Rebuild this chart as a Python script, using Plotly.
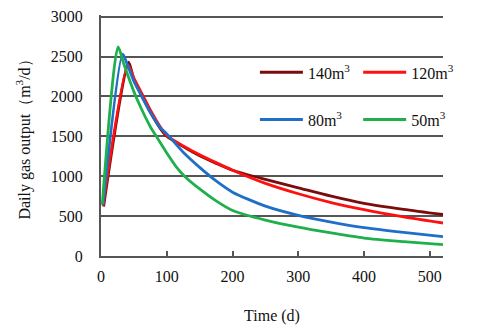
import plotly.graph_objects as go

# values (day, m3/d)
days_140 = [4, 42, 50, 60, 75, 90, 100, 125, 150, 175, 200, 250, 300, 350, 400, 460, 520]
gas_140 = [620, 2430, 2210, 2040, 1800, 1600, 1500, 1370, 1255, 1160, 1075, 960, 855, 750, 660, 585, 520]

days_120 = [3, 41, 50, 60, 75, 90, 100, 125, 150, 175, 200, 250, 300, 350, 400, 460, 520]
gas_120 = [630, 2390, 2230, 2070, 1830, 1620, 1510, 1380, 1270, 1170, 1075, 910, 780, 670, 580, 490, 413]

days_80 = [3, 33, 40, 50, 60, 75, 90, 100, 125, 150, 175, 200, 250, 300, 350, 400, 460, 520]
gas_80 = [640, 2530, 2400, 2190, 2030, 1800, 1610, 1530, 1300, 1110, 940, 800, 625, 510, 425, 355, 295, 242]

days_50 = [2, 26, 35, 50, 60, 75, 84, 100, 115, 127, 150, 175, 200, 250, 300, 350, 400, 460, 520]
gas_50 = [650, 2620, 2400, 2060, 1870, 1620, 1500, 1290, 1110, 1000, 840, 690, 570, 450, 362, 290, 225, 180, 142]

names = ["140m<sup>3</sup>", "120m<sup>3</sup>", "80m<sup>3</sup>", "50m<sup>3</sup>"]
colors = ["#7a0c0c", "#ff1010", "#1f6fc8", "#1fb04c"]
series = [(days_140, gas_140), (days_120, gas_120), (days_80, gas_80), (days_50, gas_50)]
# one small legend per series so the 2x2 layout matches the picture
legend_ids = ["legend", "legend2", "legend3", "legend4"]
legend_xy = [(0.45, 0.762), (0.752, 0.762), (0.45, 0.566), (0.752, 0.566)]

FONT = "Liberation Serif"

fig = go.Figure()
for (x, y), name, col, lg in zip(series, names, colors, legend_ids):
    fig.add_trace(go.Scatter(
        x=x, y=y, name=name, mode="lines",
        line=dict(color=col, width=2.8, shape="spline", smoothing=0.7),
        legend=lg,
    ))

legend_style = dict(
    xanchor="left", yanchor="middle",
    bgcolor="rgba(0,0,0,0)", itemwidth=43,
    font=dict(family=FONT, size=16, color="#111"),
)
legends = {lg: dict(x=px, y=py, **legend_style) for lg, (px, py) in zip(legend_ids, legend_xy)}

fig.update_layout(
    width=480, height=330,
    margin=dict(l=101, r=37, t=15, b=74),
    paper_bgcolor="white", plot_bgcolor="white",
    font=dict(family=FONT, size=16, color="#111"),
    showlegend=True,
    **legends,
)

fig.update_xaxes(
    range=[0, 520], tickvals=[0, 100, 200, 300, 400, 500],
    showgrid=False, zeroline=False, automargin=False,
    showline=True, linecolor="#555", linewidth=2,
    ticks="inside", ticklen=5, tickwidth=1.5, tickcolor="#555",
    ticklabelstandoff=5,
    title=dict(text="Time (d)", font=dict(family=FONT, size=16), standoff=26),
)
# top of range a touch above 3000 so plotly keeps the 3000 gridline
fig.update_yaxes(
    range=[0, 3020], tickvals=[0, 500, 1000, 1500, 2000, 2500, 3000],
    showgrid=True, gridcolor="#555", gridwidth=2, zeroline=False, automargin=False,
    showline=True, linecolor="#555", linewidth=2,
    ticks="", ticklabelstandoff=13,
    title=dict(text="Daily gas output（m<sup>3</sup>/d）", font=dict(family=FONT, size=16), standoff=16),
)

# drop the default 8px body margin of the page so the figure sits at the corner
fig.write_html("out.html", config={"displayModeBar": False},
               post_script="document.body.style.margin = '0';")
